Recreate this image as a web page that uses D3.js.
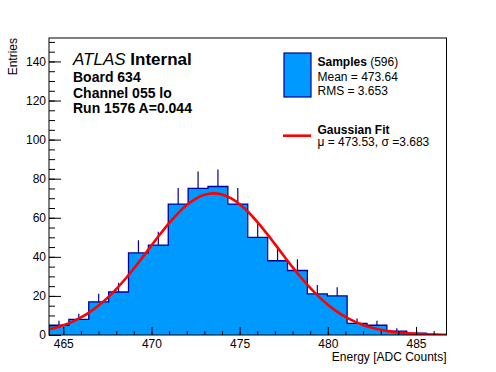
<!DOCTYPE html>
<html>
<head>
<meta charset="utf-8">
<script src="https://cdn.jsdelivr.net/npm/d3@7"></script>
<style>
  body { margin: 0; background: #fff; }
  svg text { font-family: "Liberation Sans", Arial, sans-serif; fill: #000; }
</style>
</head>
<body>
<svg id="hist" width="496" height="372"></svg>
<script>
// histogram: 20 equal bins over the axis range
var xRange = [464.19, 486.73];
var counts = [5, 8, 17, 22, 42, 46, 67, 75, 76, 67, 50, 38, 33, 21, 20, 6, 5, 2, 1, 0];
var nEntries = 596;

// gaussian fit
var fitX = [464, 464.5, 465, 465.5, 466, 466.5, 467, 467.5, 468, 468.5, 469, 469.5, 470, 470.5,
            471, 471.5, 472, 472.5, 473, 473.5, 474, 474.5, 475, 475.5, 476, 476.5, 477, 477.5,
            478, 478.5, 479, 479.5, 480, 480.5, 481, 481.5, 482, 482.5, 483, 483.5, 484, 484.5,
            485, 485.5, 486, 486.5, 487];
var fitY = [2.55, 3.59, 4.96, 6.73, 8.97, 11.73, 15.06, 18.98, 23.49, 28.53, 34.03, 39.85, 45.8, 51.69,
            57.26, 62.29, 66.5, 69.72, 71.75, 72.5, 71.91, 70.03, 66.95, 62.84, 57.9, 52.37, 46.52, 40.56,
            34.71, 29.17, 24.06, 19.49, 15.49, 12.09, 9.27, 6.97, 5.15, 3.73, 2.66, 1.86, 1.28, 0.86,
            0.57, 0.37, 0.23, 0.15, 0.09];

var xMajor = [465, 470, 475, 480, 485];
var yMajor = [0, 20, 40, 60, 80, 100, 120, 140];
var yMax = 152;

var labelLines = ["Board 634", "Channel 055 lo", "Run 1576 A=0.044"];
var legendStats = ["Mean = 473.64", "RMS = 3.653"];
var fitLabel = "\u03bc = 473.53, \u03c3 =3.683";

var fillBlue = "#0099ff",
    navy = "#000099";

var svg = d3.select("#hist"),
    margin = {top: 38, left: 49},
    width = 397.5,
    height = 297;

var x = d3.scaleLinear().domain(xRange).range([0, width]),
    y = d3.scaleLinear().domain([0, yMax]).range([height, 0]);

var g = svg.append("g")
    .attr("transform", "translate(" + margin.left + "," + margin.top + ")");

svg.append("defs").append("clipPath").attr("id", "plotclip")
  .append("rect").attr("width", width).attr("height", height);

var binW = (xRange[1] - xRange[0]) / counts.length;
var bins = counts.map(function(c, i) {
  return {lo: xRange[0] + i * binW, hi: xRange[0] + (i + 1) * binW, n: c};
});

var plot = g.append("g").attr("clip-path", "url(#plotclip)");

// step points shared by fill and outline
var stepPts = [[bins[0].lo, 0]];
bins.forEach(function(d) { stepPts.push([d.lo, d.n]); stepPts.push([d.hi, d.n]); });
stepPts.push([bins[bins.length - 1].hi, 0]);

var stepLine = d3.line()
    .x(function(d) { return x(d[0]); })
    .y(function(d) { return y(d[1]); });

plot.append("path")
  .attr("d", stepLine(stepPts) + "Z")
  .attr("fill", fillBlue)
  .attr("stroke", "none");

plot.append("path")
  .attr("d", stepLine(stepPts))
  .attr("fill", "none")
  .attr("stroke", navy)
  .attr("stroke-width", 1.3);

// error bars (upper half)
plot.selectAll(".err")
  .data(bins.filter(function(d) { return d.n > 0; }))
  .enter().append("line")
    .attr("class", "err")
    .attr("x1", function(d) { return x((d.lo + d.hi) / 2); })
    .attr("x2", function(d) { return x((d.lo + d.hi) / 2); })
    .attr("y1", function(d) { return y(d.n); })
    .attr("y2", function(d) { return y(d.n + Math.sqrt(d.n)); })
    .attr("stroke", navy)
    .attr("stroke-width", 1.2);

// fit curve
plot.append("path")
  .datum(d3.zip(fitX, fitY))
  .attr("d", d3.line()
    .curve(d3.curveMonotoneX)
    .x(function(d) { return x(d[0]); })
    .y(function(d) { return y(d[1]); }))
  .attr("fill", "none")
  .attr("stroke", "#ff0000")
  .attr("stroke-width", 2.6);

// axes
g.append("g").attr("transform", "translate(0," + height + ")")
  .call(d3.axisBottom(x).tickValues(xMajor).tickSize(-8).tickPadding(4));
g.append("g").attr("transform", "translate(0," + height + ")")
  .call(d3.axisBottom(x).tickValues(d3.range(465, 487)).tickSize(-4).tickFormat(""));
g.append("g")
  .call(d3.axisLeft(y).tickValues(yMajor).tickSize(-12).tickPadding(3));
g.append("g")
  .call(d3.axisLeft(y).tickValues(d3.range(0, yMax, 5)).tickSize(-6).tickFormat(""));

g.selectAll(".domain").remove();
g.selectAll(".tick line").attr("stroke", "#000");
g.selectAll(".tick text").attr("font-size", 12).attr("font-family", null);

// frame
g.append("rect")
  .attr("width", width).attr("height", height)
  .attr("fill", "none").attr("stroke", "#000").attr("stroke-width", 1);

// axis titles
svg.append("text")
  .attr("x", margin.left + width).attr("y", 361)
  .attr("text-anchor", "end").attr("font-size", 12)
  .text("Energy [ADC Counts]");
svg.append("text")
  .attr("transform", "translate(17,38) rotate(-90)")
  .attr("text-anchor", "end").attr("font-size", 12)
  .text("Entries");

// ATLAS label
var atlas = svg.append("text").attr("x", 73).attr("y", 65).attr("font-size", 17);
atlas.append("tspan").attr("font-style", "italic").text("ATLAS");
atlas.append("tspan").attr("font-weight", "bold").text(" Internal");

svg.selectAll(".info")
  .data(labelLines)
  .enter().append("text")
    .attr("class", "info")
    .attr("x", 73)
    .attr("y", function(d, i) { return 81.7 + i * 15.8; })
    .attr("font-size", 14).attr("font-weight", "bold")
    .text(function(d) { return d; });

// legend
svg.append("rect")
  .attr("x", 284).attr("y", 53).attr("width", 27).attr("height", 44)
  .attr("fill", fillBlue).attr("stroke", navy).attr("stroke-width", 1.2);

var samp = svg.append("text").attr("x", 317.5).attr("y", 65.5).attr("font-size", 12);
samp.append("tspan").attr("font-weight", "bold").text("Samples");
samp.append("tspan").text(" (" + nEntries + ")");

svg.selectAll(".stat")
  .data(legendStats)
  .enter().append("text")
    .attr("class", "stat")
    .attr("x", 317.5)
    .attr("y", function(d, i) { return 81 + i * 14; })
    .attr("font-size", 12)
    .text(function(d) { return d; });

svg.append("line")
  .attr("x1", 283).attr("x2", 311).attr("y1", 135.7).attr("y2", 135.7)
  .attr("stroke", "#ff0000").attr("stroke-width", 2.6);
svg.append("text")
  .attr("x", 317.5).attr("y", 133.5).attr("font-size", 12).attr("font-weight", "bold")
  .text("Gaussian Fit");
svg.append("text")
  .attr("x", 317.5).attr("y", 146).attr("font-size", 12)
  .text(fitLabel);
</script>
</body>
</html>
